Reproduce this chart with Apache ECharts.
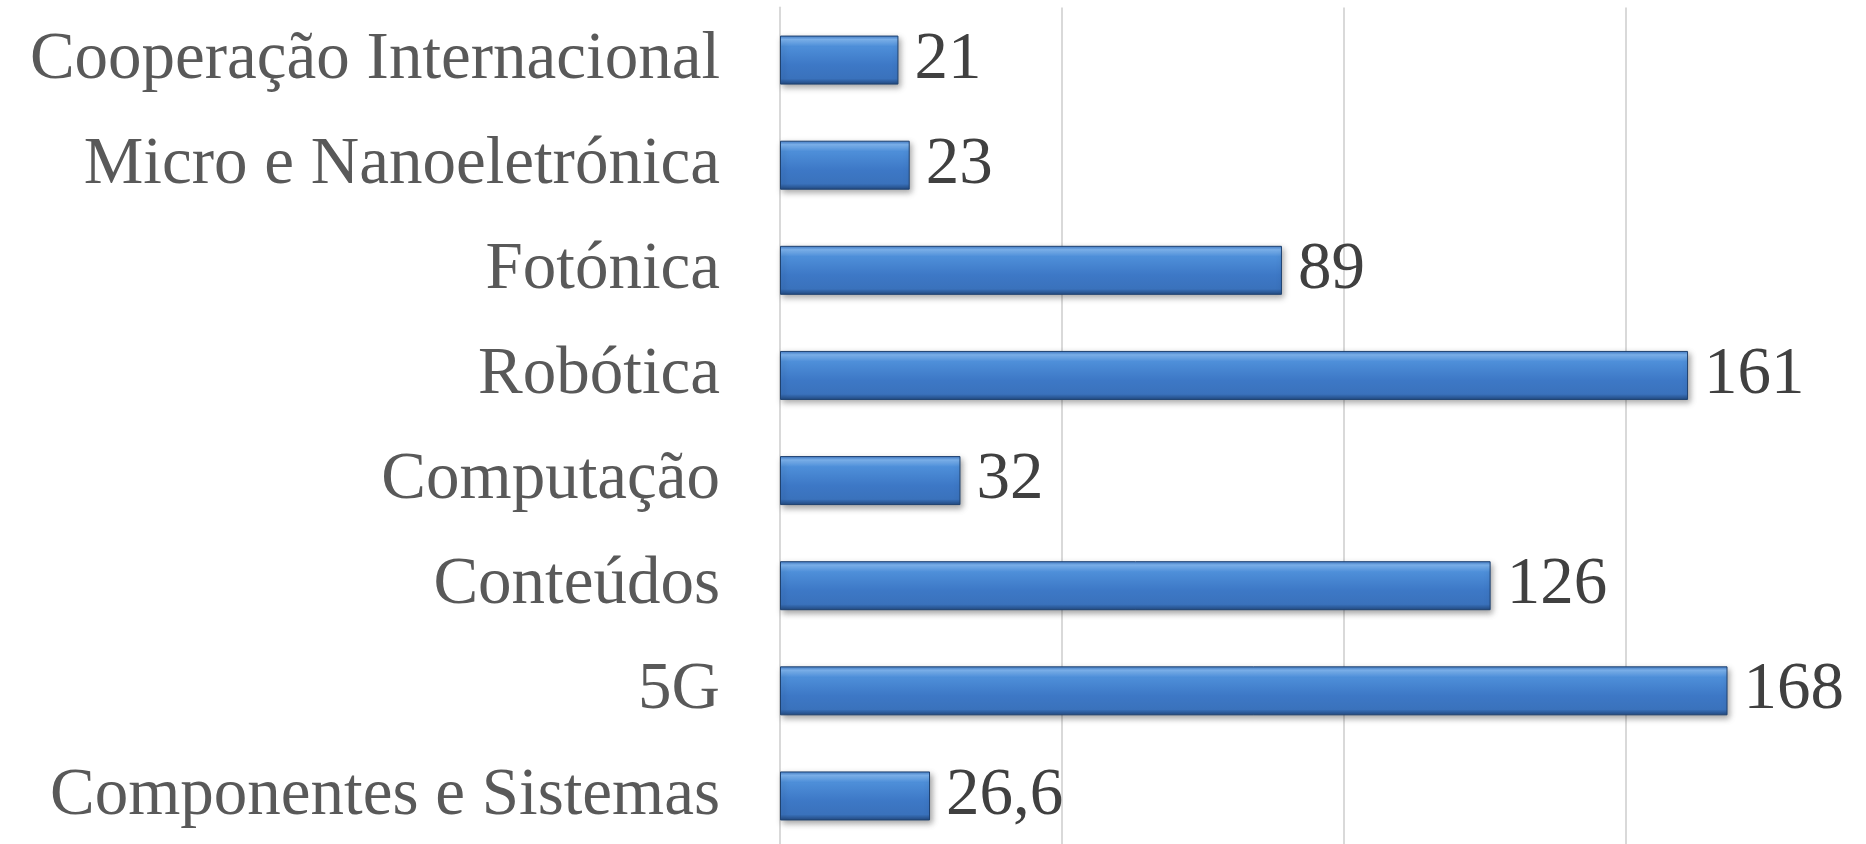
<!DOCTYPE html>
<html><head><meta charset="utf-8">
<script src="https://cdn.jsdelivr.net/npm/echarts@6/dist/echarts.min.js"></script>
<style>html,body{margin:0;padding:0;background:#fff}#c{width:1866px;height:844px}</style>
</head><body><div id="c"></div>
<script>
const categories = ["Cooperação Internacional","Micro e Nanoeletrónica","Fotónica","Robótica","Computação","Conteúdos","5G","Componentes e Sistemas"];
const values = [21, 23, 89, 161, 32, 126, 168, 26.6];
const axisMax = 200;
const axisInterval = 50;

const chart = echarts.init(document.getElementById('c'));
chart.setOption({
  animation: false,
  backgroundColor: '#ffffff',
  grid: { left: 780, top: 7.5, width: 1128, height: 841, outerBoundsMode: 'none', containLabel: false },
  xAxis: {
    type: 'value', min: 0, max: axisMax, interval: axisInterval,
    axisLabel: { show: false }, axisLine: { show: false }, axisTick: { show: false },
    splitLine: { lineStyle: { color: '#d9d9d9', width: 2 } }
  },
  yAxis: {
    type: 'category', data: categories, inverse: true,
    axisLine: { show: true, lineStyle: { color: '#d9d9d9', width: 2 } },
    axisTick: { show: false },
    axisLabel: { color: '#595959', fontFamily: 'Liberation Serif', fontSize: 67, margin: 60 }
  },
  series: [{
    type: 'bar', data: values, barWidth: 49,
    itemStyle: {
      color: { type: 'linear', x: 0, y: 0, x2: 0, y2: 1, colorStops: [
        { offset: 0, color: '#3d78c4' },
        { offset: 0.08, color: '#7fb6f2' },
        { offset: 0.22, color: '#4e8fd9' },
        { offset: 0.6, color: '#3d78c6' },
        { offset: 0.88, color: '#3a72bc' },
        { offset: 1, color: '#22497f' }
      ]},
      borderColor: '#1f4270', borderWidth: 1,
      shadowColor: 'rgba(0,0,0,0.35)', shadowBlur: 6, shadowOffsetX: 2, shadowOffsetY: 3
    },
    label: {
      show: true, position: 'right', distance: 16,
      color: '#404040', fontFamily: 'Liberation Serif', fontSize: 67,
      formatter: p => String(p.value).replace('.', ',')
    }
  }]
});
</script></body></html>
